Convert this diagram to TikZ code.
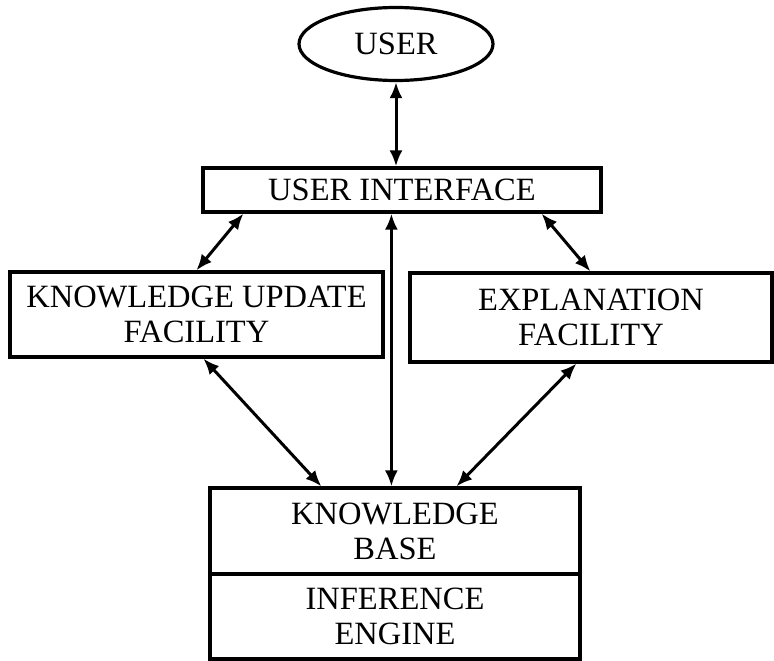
\documentclass[tikz,border=0pt]{standalone}
\usepackage{fontspec}
\setmainfont{Liberation Serif}
\usetikzlibrary{arrows.meta,calc,shapes.geometric}
\begin{document}
\begin{tikzpicture}[x=1pt,y=-1pt,
  box/.style={draw,line width=3.2pt,rectangle,inner sep=0pt,align=center,
    font=\fontsize{32.5}{35}\selectfont},
  conn/.style={line width=3pt,{Latex[length=16pt,width=13pt]}-{Latex[length=16pt,width=13pt]}}]
\useasboundingbox (0,0) rectangle (774,661);
\node[box,ellipse,minimum width=194pt,minimum height=73pt] (user) at (396,44) {USER};
\node[box,minimum width=398pt,minimum height=44pt] (ui) at (402,190) {USER INTERFACE};
\node[box,minimum width=373pt,minimum height=85pt] (ku) at (196.5,314.5) {KNOWLEDGE UPDATE\\FACILITY};
\node[box,minimum width=362pt,minimum height=89pt] (ex) at (591,317.5) {EXPLANATION\\FACILITY};
\node[box,minimum width=370pt,minimum height=86pt] (kb) at (395,531) {KNOWLEDGE\\BASE};
\node[box,minimum width=370pt,minimum height=85pt] (ie) at (395,616.5) {INFERENCE\\ENGINE};
\draw[conn] (user.south) -- (ui.north -| user.south);
\draw[conn] ([xshift=42pt]ui.south west) -- ([xshift=188pt]ku.north west);
\draw[conn] ([xshift=-61pt]ui.south east) -- ([xshift=182pt]ex.north west);
\draw[conn] ([xshift=190pt]ui.south west) -- ([xshift=183pt]kb.north west);
\draw[conn] ([xshift=195pt]ku.south west) -- ([xshift=113pt]kb.north west);
\draw[conn] ([xshift=168pt]ex.south west) -- ([xshift=248pt]kb.north west);
\end{tikzpicture}
\end{document}
